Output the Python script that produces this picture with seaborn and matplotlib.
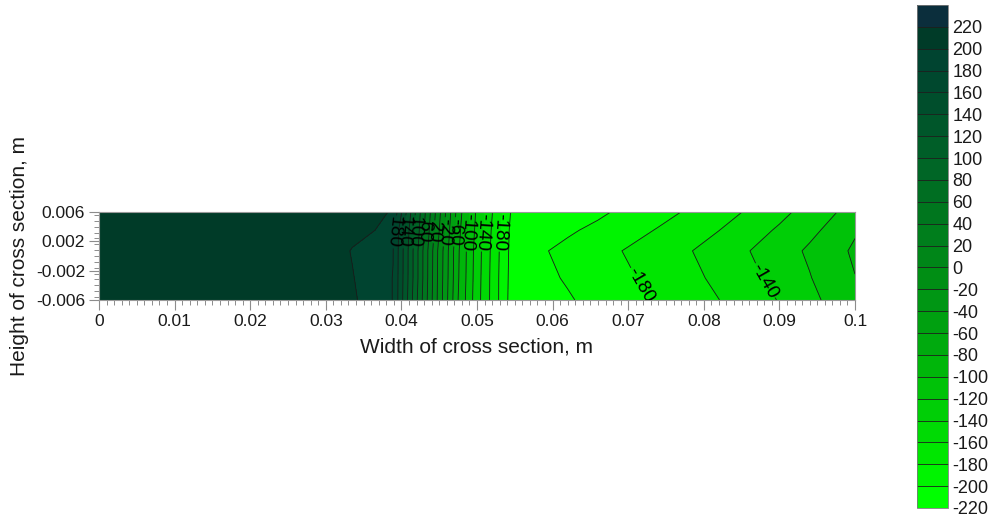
import numpy as np
import pandas as pd
import matplotlib
matplotlib.use("Agg")
import matplotlib.pyplot as plt
import seaborn as sns
from matplotlib.colors import ListedColormap, BoundaryNorm
from matplotlib.ticker import MultipleLocator, FixedLocator, FixedFormatter

# ---------------- data ----------------
X_NODES = [0.0, 0.030, 0.0335, 0.0365, 0.0389, 0.0420, 0.0448, 0.0475, 0.0500,
           0.0525, 0.0545, 0.0565, 0.0590, 0.062, 0.066, 0.070, 0.074, 0.078,
           0.082, 0.086, 0.090, 0.094, 0.098, 0.100]
Y_ROWS = [-0.006, -0.003, 0.0007, 0.0035, 0.006]

ROW_BOTTOM = [213, 211, 203, 190, 179.5, 83, -2, -80, -132, -174, -207, -212, -207,
              -202, -193.5, -185.7, -177.6, -168.9, -160.2, -149.7, -139, -124.9, -112, -108]
ROW_LOWER = [212, 210, 201, 190, 179.5, 86, -1, -78, -131, -174, -206, -212, -204,
             -198, -190.1, -182.2, -173.8, -165.2, -155.7, -145.1, -133.4, -121, -107, -100.5]
ROW_MID = [212, 210, 199, 189.5, 180.5, 86, 0, -77, -130, -173, -205, -212, -201,
           -194.5, -186.5, -178.3, -169.8, -161.3, -150.9, -140.3, -128.9, -117, -103.4, -97]
ROW_UPPER = [213, 211, 205, 200, 181.5, 91, 6, -73, -127, -171, -204, -211, -208,
             -203, -195, -186.9, -178.6, -169.4, -160.2, -148.9, -137.2, -124.7, -111.7, -102]
ROW_TOP = [214, 212, 208, 205, 198, 95, 11, -69, -124, -168, -201, -210, -212,
           -211, -204, -194.5, -186.3, -177.8, -167.9, -157.6, -145.5, -132.4, -118.7, -112]

LEVELS = [-220, -200, -180, -160, -140, -120, -100, -80, -60, -40, -20, 0,
          20, 40, 60, 80, 100, 120, 140, 160, 180, 200, 220, 240]
CBAR_TICKS = [-220, -200, -180, -160, -140, -120, -100, -80, -60, -40, -20, 0,
              20, 40, 60, 80, 100, 120, 140, 160, 180, 200, 220]
LABELED_LEVELS = [-180, -140, -100, -60, -20, 20, 60, 100, 140, 180]

X_TICKS = [0, 0.01, 0.02, 0.03, 0.04, 0.05, 0.06, 0.07, 0.08, 0.09, 0.1]
X_TICK_LABELS = ["0", "0.01", "0.02", "0.03", "0.04", "0.05", "0.06", "0.07",
                 "0.08", "0.09", "0.1"]
Y_TICKS = [-0.006, -0.002, 0.002, 0.006]
Y_TICK_LABELS = ["-0.006", "-0.002", "0.002", "0.006"]

# band colours, from -220 (bottom) to 240 (top)
BAND_COLORS = ["#00FF00", "#00F400", "#00E600", "#00DA04", "#00CE06", "#00C208",
               "#00B60A", "#00AA0E", "#00A010", "#009614", "#008E14", "#008618",
               "#007E1C", "#00761E", "#006E22", "#006626", "#005E28", "#00562A",
               "#004E2C", "#00482E", "#004430", "#003B28", "#0B2E3C"]

# ---------------- style ----------------
sns.set_theme(style="ticks")
plt.rcParams["font.family"] = ["Liberation Sans", "DejaVu Sans"]
plt.rcParams["axes.unicode_minus"] = False

field = pd.DataFrame([ROW_BOTTOM, ROW_LOWER, ROW_MID, ROW_UPPER, ROW_TOP],
                     index=Y_ROWS, columns=X_NODES)

W, H = 995, 517
fig = plt.figure(figsize=(W / 100, H / 100), dpi=100)
ax = fig.add_axes([99 / W, 1 - 300 / H, 756 / W, 88 / H])

cmap = ListedColormap(BAND_COLORS)
norm = BoundaryNorm(LEVELS, cmap.N)
xx = field.columns.values.astype(float)
yy = field.index.values.astype(float)
zz = field.values

cf = ax.contourf(xx, yy, zz, levels=LEVELS, cmap=cmap, norm=norm)
plain_levels = [lv for lv in LEVELS if lv not in LABELED_LEVELS]
ax.contour(xx, yy, zz, levels=plain_levels, colors="#1a1a1a", linewidths=0.6,
           negative_linestyles="solid")
cs_lab = ax.contour(xx, yy, zz, levels=LABELED_LEVELS, colors="#1a1a1a",
                    linewidths=0.6, negative_linestyles="solid")

label_pos = [(0.03895, 0.0033), (0.04032, 0.0033), (0.04169, 0.0033),
             (0.04302, 0.0033), (0.04434, 0.0033), (0.04569, 0.0033),
             (0.04706, 0.0033), (0.04875, 0.0033), (0.05074, 0.0033),
             (0.05305, 0.0033), (0.0716, -0.0040), (0.0874, -0.0038)]
texts = ax.clabel(cs_lab, manual=label_pos, inline=True,
                  inline_spacing=1, fontsize=13.5, fmt="%d", colors="black")
for t in texts:
    r = t.get_rotation() % 360
    if 60 < r < 120:
        t.set_rotation(r + 180)

ax.set_xlim(0, 0.1)
ax.set_ylim(-0.006, 0.006)
ax.xaxis.set_major_locator(FixedLocator(X_TICKS))
ax.xaxis.set_major_formatter(FixedFormatter(X_TICK_LABELS))
ax.xaxis.set_minor_locator(MultipleLocator(0.001))
ax.yaxis.set_major_locator(FixedLocator(Y_TICKS))
ax.yaxis.set_major_formatter(FixedFormatter(Y_TICK_LABELS))
ax.yaxis.set_minor_locator(MultipleLocator(0.0008))

ax.tick_params(which="major", direction="out", length=7, width=0.8,
               color="#8c8c8c", labelsize=12.5, labelcolor="#1a1a1a", pad=3)
ax.tick_params(which="minor", direction="out", length=3.5, width=0.7,
               color="#8c8c8c")
for s in ax.spines.values():
    s.set_color("#9a9a9a")
    s.set_linewidth(0.8)

ax.set_xlabel("Width of cross section, m", fontsize=15, color="#1a1a1a", labelpad=6)
ax.set_ylabel("Height of cross section, m", fontsize=15, color="#1a1a1a", labelpad=5)

cax = fig.add_axes([917 / W, 1 - 508 / H, 31 / W, 503 / H])
cb = fig.colorbar(cf, cax=cax, ticks=CBAR_TICKS, drawedges=True)
cb.ax.minorticks_off()
cb.ax.set_yticklabels([str(t) for t in CBAR_TICKS])
cb.ax.tick_params(length=0, labelsize=13, labelcolor="#1a1a1a", pad=3)
cb.dividers.set_color("#1e1e1e")
cb.dividers.set_linewidth(0.6)
cb.outline.set_edgecolor("#7a7a7a")
cb.outline.set_linewidth(0.6)

fig.savefig("out.png", dpi=100)
